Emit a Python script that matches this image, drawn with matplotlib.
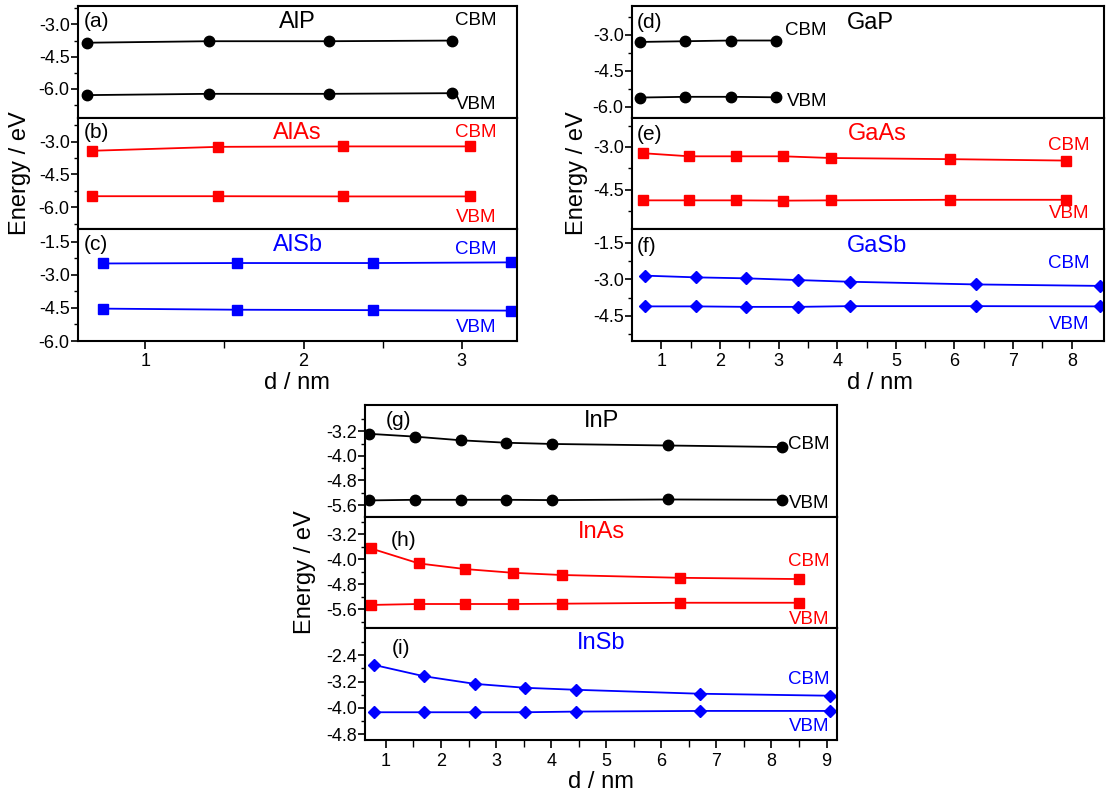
import matplotlib
matplotlib.use("Agg")
import matplotlib.pyplot as plt
from matplotlib.ticker import FixedLocator, FormatStrFormatter

plt.rcParams['font.family'] = ['Liberation Sans', 'DejaVu Sans']
plt.rcParams['axes.unicode_minus'] = False
plt.rcParams['xtick.labelsize'] = 13
plt.rcParams['ytick.labelsize'] = 13

# ---- data (d in nm, energies in eV) ----
alp_d = [0.63, 1.40, 2.16, 2.94]
alp_cbm = [-3.85, -3.78, -3.78, -3.75]
alp_vbm = [-6.29, -6.23, -6.23, -6.20]

alas_d = [0.66, 1.46, 2.25, 3.05]
alas_cbm = [-3.42, -3.24, -3.22, -3.22]
alas_vbm = [-5.49, -5.49, -5.50, -5.50]

alsb_d = [0.73, 1.58, 2.44, 3.31]
alsb_cbm = [-2.48, -2.46, -2.46, -2.43]
alsb_vbm = [-4.53, -4.58, -4.60, -4.62]

gap_d = [0.64, 1.41, 2.19, 2.96]
gap_cbm = [-3.30, -3.27, -3.24, -3.24]
gap_vbm = [-5.62, -5.59, -5.59, -5.61]

gaas_d = [0.68, 1.48, 2.27, 3.08, 3.90, 5.92, 7.90]
gaas_cbm = [-3.22, -3.33, -3.33, -3.33, -3.39, -3.43, -3.48]
gaas_vbm = [-4.88, -4.88, -4.88, -4.89, -4.88, -4.86, -4.86]

gasb_d = [0.73, 1.59, 2.45, 3.33, 4.21, 6.37, 8.49]
gasb_cbm = [-2.85, -2.92, -2.96, -3.03, -3.10, -3.21, -3.27]
gasb_vbm = [-4.11, -4.11, -4.13, -4.13, -4.10, -4.10, -4.11]

inp_d = [0.70, 1.52, 2.36, 3.18, 4.02, 6.12, 8.20]
inp_cbm = [-3.28, -3.37, -3.49, -3.57, -3.61, -3.66, -3.71]
inp_vbm = [-5.45, -5.43, -5.43, -5.43, -5.44, -5.42, -5.43]

inas_d = [0.73, 1.60, 2.44, 3.31, 4.19, 6.34, 8.50]
inas_cbm = [-3.65, -4.13, -4.31, -4.43, -4.50, -4.59, -4.63]
inas_vbm = [-5.46, -5.43, -5.43, -5.43, -5.42, -5.39, -5.39]

insb_d = [0.79, 1.69, 2.61, 3.53, 4.45, 6.71, 9.07]
insb_cbm = [-2.70, -3.04, -3.27, -3.39, -3.45, -3.57, -3.63]
insb_vbm = [-4.13, -4.13, -4.13, -4.13, -4.11, -4.09, -4.09]

ticks_15 = [-1.5, -3.0, -4.5, -6.0]
minor_15 = [-0.75, -2.25, -3.75, -5.25, -6.75]
ticks_08 = [-2.4, -3.2, -4.0, -4.8, -5.6]
minor_08 = [-2.0, -2.8, -3.6, -4.4, -5.2, -6.0]

W, H = 1106, 793
fig = plt.figure(figsize=(W / 100, H / 100), dpi=100)


def group_axes(left, top, right, bottom):
    h = (bottom - top) / 3
    axs = []
    for i in range(3):
        t = top + i * h
        axs.append(fig.add_axes([left / W, 1 - (t + h) / H, (right - left) / W, h / H]))
    return axs


def style(ax, ylim, yticks, yminor, xlim, xmajor, xminor, bottom):
    ax.set_xlim(xlim)
    ax.set_ylim(ylim)
    ax.yaxis.set_major_locator(FixedLocator(yticks))
    ax.yaxis.set_minor_locator(FixedLocator(yminor))
    ax.yaxis.set_major_formatter(FormatStrFormatter('%.1f'))
    ax.xaxis.set_major_locator(FixedLocator(xmajor))
    ax.xaxis.set_minor_locator(FixedLocator(xminor))
    for s in ax.spines.values():
        s.set_linewidth(1.5)
    ax.tick_params(axis='y', which='major', direction='out', length=5, width=1.2, pad=1)
    ax.tick_params(axis='y', which='minor', direction='out', length=3, width=1.0)
    if bottom:
        ax.tick_params(axis='x', which='major', direction='out', length=6, width=1.2, pad=3)
        ax.tick_params(axis='x', which='minor', direction='out', length=5, width=1.0)
    else:
        ax.tick_params(axis='x', which='both', bottom=False, labelbottom=False)


def panel(ax, d, cbm, vbm, color, marker, ms):
    ax.plot(d, cbm, color=color, marker=marker, ms=ms, lw=1.3)
    ax.plot(d, vbm, color=color, marker=marker, ms=ms, lw=1.3)


def label(ax, x, y, s, color, size=13.5, ha='left'):
    ax.text(x, y, s, color=color, fontsize=size, ha=ha, va='center', transform=ax.transAxes)


# ---- Al group ----
ax_a, ax_b, ax_c = group_axes(78, 6, 517, 341)
xl = (0.574, 3.35)
xt = [1, 2, 3]
xm = [0.5, 1.5, 2.5, 3.5]
panel(ax_a, alp_d, alp_cbm, alp_vbm, 'black', 'o', 7.5)
style(ax_a, (-7.34, -2.14), ticks_15, minor_15, xl, xt, xm, False)
panel(ax_b, alas_d, alas_cbm, alas_vbm, 'red', 's', 6.5)
style(ax_b, (-7.0, -1.91), ticks_15, minor_15, xl, xt, xm, False)
panel(ax_c, alsb_d, alsb_cbm, alsb_vbm, 'blue', 's', 6.5)
style(ax_c, (-6.0, -0.93), ticks_15, minor_15, xl, xt, xm, True)

for ax, tag, name, col, ycb, yvb in [
        (ax_a, '(a)', 'AlP', 'black', 0.87, 0.115),
        (ax_b, '(b)', 'AlAs', 'red', 0.865, 0.105),
        (ax_c, '(c)', 'AlSb', 'blue', 0.82, 0.125)]:
    label(ax, 0.013, 0.865, tag, 'black', 15)
    label(ax, 0.5, 0.86, name, col, 17, 'center')
    label(ax, 0.953, ycb, 'CBM', col, 13.5, 'right')
    label(ax, 0.953, yvb, 'VBM', col, 13.5, 'right')

# ---- Ga group ----
ax_d, ax_e, ax_f = group_axes(632, 6, 1104, 341)
xl = (0.5, 8.55)
xt = [1, 2, 3, 4, 5, 6, 7, 8]
xm = [1.5, 2.5, 3.5, 4.5, 5.5, 6.5, 7.5]
panel(ax_d, gap_d, gap_cbm, gap_vbm, 'black', 'o', 7.5)
style(ax_d, (-6.46, -1.8), ticks_15, minor_15, xl, xt, xm, False)
panel(ax_e, gaas_d, gaas_cbm, gaas_vbm, 'red', 's', 6.5)
style(ax_e, (-5.9, -1.97), ticks_15, minor_15, xl, xt, xm, False)
panel(ax_f, gasb_d, gasb_cbm, gasb_vbm, 'blue', 'D', 6)
style(ax_f, (-5.53, -0.95), ticks_15, minor_15, xl, xt, xm, True)

label(ax_d, 0.011, 0.85, '(d)', 'black', 15)
label(ax_d, 0.505, 0.85, 'GaP', 'black', 17, 'center')
label(ax_d, 0.324, 0.78, 'CBM', 'black')
label(ax_d, 0.328, 0.145, 'VBM', 'black')
for ax, tag, name, col, ycb, yvb in [
        (ax_e, '(e)', 'GaAs', 'red', 0.75, 0.14),
        (ax_f, '(f)', 'GaSb', 'blue', 0.69, 0.15)]:
    label(ax, 0.011, 0.85, tag, 'black', 15)
    label(ax, 0.52, 0.85, name, col, 17, 'center')
    label(ax, 0.97, ycb, 'CBM', col, 13.5, 'right')
    label(ax, 0.97, yvb, 'VBM', col, 13.5, 'right')

# ---- In group ----
ax_g, ax_h, ax_i = group_axes(365, 405, 837, 740)
xl = (0.62, 9.19)
xt = [1, 2, 3, 4, 5, 6, 7, 8, 9]
xm = [1.5, 2.5, 3.5, 4.5, 5.5, 6.5, 7.5, 8.5]
panel(ax_g, inp_d, inp_cbm, inp_vbm, 'black', 'o', 7.5)
style(ax_g, (-5.98, -2.34), ticks_08[1:], minor_08, xl, xt, xm, False)
panel(ax_h, inas_d, inas_cbm, inas_vbm, 'red', 's', 6.5)
style(ax_h, (-6.21, -2.63), ticks_08[1:], minor_08, xl, xt, xm, False)
panel(ax_i, insb_d, insb_cbm, insb_vbm, 'blue', 'D', 6)
style(ax_i, (-4.97, -1.59), ticks_08[:4], minor_08, xl, xt, xm, True)

for ax, tag, xtag, ytag, name, col, yname, ycb, yvb in [
        (ax_g, '(g)', 0.045, 0.86, 'InP', 'black', 0.86, 0.65, 0.12),
        (ax_h, '(h)', 0.055, 0.79, 'InAs', 'red', 0.865, 0.60, 0.075),
        (ax_i, '(i)', 0.057, 0.82, 'InSb', 'blue', 0.865, 0.545, 0.12)]:
    label(ax, xtag, ytag, tag, 'black', 15)
    label(ax, 0.5, yname, name, col, 17, 'center')
    label(ax, 0.985, ycb, 'CBM', col, 13.5, 'right')
    label(ax, 0.985, yvb, 'VBM', col, 13.5, 'right')

# ---- axis titles ----
for x, y in [(20, 173), (577, 173), (305, 572)]:
    fig.text(x / W, 1 - y / H, 'Energy / eV', rotation=90, fontsize=17, ha='center', va='center')
for x, y in [(297, 383), (880, 383), (601, 782)]:
    fig.text(x / W, 1 - y / H, 'd / nm', fontsize=17, ha='center', va='center')

fig.savefig('out.png', dpi=100)
